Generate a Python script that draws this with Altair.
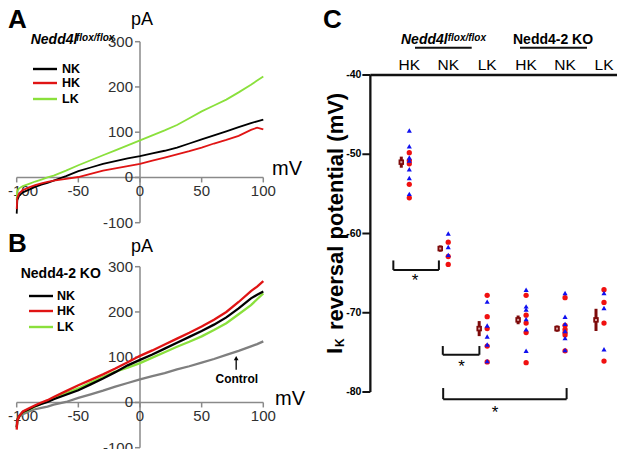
import altair as alt
import pandas as pd

FONT = "Liberation Sans"

# ---------------- Panels A / B : I-V traces ----------------
mv = [-100, -99.5, -98, -95, -90, -85, -80, -75, -70, -60, -50, -40, -30, -20, -10,
      0, 10, 20, 30, 40, 50, 60, 70, 80, 90, 95, 100]
a_lk = [-50, -30, -24, -19, -14, -9, -5, 0, 4, 15, 27, 38, 49, 60, 71,
        82, 93, 104, 116, 131, 146, 159, 172, 188, 205, 214, 223]
a_nk = [-80, -50, -40, -33, -27, -21, -16, -12, -7, 3, 14, 22, 30, 36, 42,
        47, 53, 59, 66, 75, 84, 93, 102, 111, 120, 124, 128]
a_hk = [-70, -45, -35, -28, -22, -17, -13, -10, -7, -3, 1, 8, 15, 20, 25,
        30, 37, 44, 51, 58, 66, 75, 83, 92, 105, 110, 106]
b_hk = [-60, -40, -30, -20, -13, -6, 0, 5, 12, 25, 38, 50, 62, 75, 89,
        103, 115, 128, 141, 154, 168, 183, 200, 222, 246, 256, 268]
b_nk = [-55, -40, -30, -21, -15, -8, -3, 1, 7, 17, 27, 40, 53, 67, 82,
        94, 106, 119, 132, 145, 158, 172, 188, 208, 230, 238, 245]
b_lk = [-55, -41, -30, -22, -16, -9, -3, 3, 9, 20, 31, 44, 56, 68, 77,
        87, 99, 111, 123, 134, 146, 160, 175, 195, 215, 228, 241]
b_ctrl = [-45, -36, -32, -26, -20, -15, -12, -9, -5, 1, 10, 18, 26, 35, 43,
          51, 58, 65, 73, 80, 88, 96, 105, 114, 124, 129, 135]
iv_xticks = [-100, -50, 0, 50, 100]
iv_yticks = [-100, 0, 100, 200, 300]
ctrl_arrow = {"mv": 78, "from": 72, "to": 98}
ctrl_label = {"mv": 78.5, "pa": 42}

# ---------------- Panel C : reversal potentials ----------------
c_groups = ["HK", "NK", "LK", "HK", "NK", "LK"]
c_mean = [-51.0, -61.9, -72.0, -70.9, -72.0, -70.9]
c_sem = [0.7, 0.4, 0.95, 0.55, 0.4, 1.4]
c_tri = [[-47.0, -49.0, -50.4, -50.8, -51.9, -53.0, -55.0],
         [-60.0, -61.7, -62.7],
         [-68.6, -71.6, -73.0, -74.0, -76.1],
         [-67.1, -69.2, -69.6, -70.8, -72.1, -74.8],
         [-67.5, -70.5, -71.4, -72.3, -73.2, -74.7],
         [-67.5, -69.4, -74.6]]
c_circ = [[-49.8, -50.8, -51.2, -53.8, -55.5],
          [-61.1, -62.9, -63.9],
          [-67.8, -70.5, -72.0, -74.2, -76.2],
          [-67.8, -70.3, -71.3, -72.5, -76.3],
          [-68.1, -71.6, -72.1, -72.5, -72.8, -74.8],
          [-67.1, -68.7, -71.3, -76.1]]
c_yticks = [-40, -50, -60, -70, -80]
sig_left = [-0.41, 0.86, 0.87]
sig_right = [0.76, 1.8, 4.04]
sig_top = [-63.4, -74.2, -79.5]
sig_bottom = [-64.6, -75.3, -80.9]
star_x = [0.15, 1.34, 2.2]
star_y = [-65.5, -76.4, -82.2]

# ---------------- scales (pixel ranges inside one canvas) ----------------
def sc(domain, rng):
    return alt.Scale(domain=domain, range=rng, nice=False, zero=False)

SX_IV = sc([-100, 100], [8.7, 255.3])
SY_A = sc([-100, 300], [214.7, 33.7])
SY_B = sc([-100, 300], [439.7, 258.7])
SX_C = sc([0, 5], [401.3, 596])
SY_C = sc([-80, -40], [384, 67])


def X(f, s):
    return alt.X(f, type="quantitative", scale=s, axis=None)


def Y(f, s):
    return alt.Y(f, type="quantitative", scale=s, axis=None)


def txt(s, x, y, size, weight="normal", style="normal", align="left",
        baseline="alphabetic", angle=None, color="#000000"):
    kw = dict(font=FONT, fontSize=size, fontWeight=weight, fontStyle=style,
              align=align, baseline=baseline, color=color)
    if angle is not None:
        kw["angle"] = angle
    return alt.Chart(pd.DataFrame({"t": [s]})).mark_text(**kw).encode(
        x=alt.value(x), y=alt.value(y), text="t:N")


def hline(x1, x2, y, color, width):
    return alt.Chart(pd.DataFrame({"a": [0]})).mark_rule(
        color=color, strokeWidth=width).encode(
        x=alt.value(x1), x2=alt.value(x2), y=alt.value(y))


layers = []

AX_GRAY = "#8a8a8a"
LBL = "#303030"
GREEN = "#8ae03c"
RED = "#e01414"


def iv_panel(SY, series, lw, dy0):
    out = []
    # axes
    out.append(alt.Chart(pd.DataFrame({"x": [0], "y": [-100], "y2": [300]}))
               .mark_rule(color=AX_GRAY, strokeWidth=1.5)
               .encode(x=X("x", SX_IV), y=Y("y", SY), y2="y2"))
    out.append(alt.Chart(pd.DataFrame({"x": [-100], "x2": [100], "y": [0]}))
               .mark_rule(color=AX_GRAY, strokeWidth=1.5)
               .encode(x=X("x", SX_IV), x2="x2", y=Y("y", SY)))
    ydf = pd.DataFrame({"x": [0] * len(iv_yticks), "y": iv_yticks,
                        "lab": [str(v) for v in iv_yticks]})
    out.append(alt.Chart(ydf).mark_rule(color=AX_GRAY, strokeWidth=1.5, x2Offset=-5)
               .encode(x=X("x", SX_IV), x2="x", y=Y("y", SY)))
    out.append(alt.Chart(ydf).mark_text(font=FONT, fontSize=15, color=LBL, align="right",
                                        baseline="middle", dx=-7)
               .encode(x=X("x", SX_IV), y=Y("y", SY), text="lab:N"))
    xdf = pd.DataFrame({"x": iv_xticks, "y": [0] * len(iv_xticks),
                        "lab": [str(v) for v in iv_xticks]})
    out.append(alt.Chart(xdf).mark_rule(color=AX_GRAY, strokeWidth=1.5, y2Offset=5)
               .encode(x=X("x", SX_IV), y=Y("y", SY), y2="y"))
    out.append(alt.Chart(xdf.iloc[1:]).mark_text(font=FONT, fontSize=15, color=LBL,
                                                 align="center", baseline="middle", dy=dy0)
               .encode(x=X("x", SX_IV), y=Y("y", SY), text="lab:N"))
    out.append(alt.Chart(xdf.iloc[:1]).mark_text(font=FONT, fontSize=15, color=LBL,
                                                 align="left", baseline="middle", dy=dy0, dx=-8.7)
               .encode(x=X("x", SX_IV), y=Y("y", SY), text="lab:N"))
    # traces
    for vals, col in series:
        df = pd.DataFrame({"mv": mv, "pa": vals})
        out.append(alt.Chart(df).mark_line(color=col, strokeWidth=lw)
                   .encode(x=X("mv", SX_IV), y=Y("pa", SY), order="mv:Q"))
    return out


# ---- Panel A
layers += iv_panel(SY_A, [(a_lk, GREEN), (a_nk, "#000000"), (a_hk, RED)], 1.8, 14)
layers.append(txt("A", 0, 19.5, 26, weight="bold"))
layers.append(txt("pA", 134, 17, 18, align="center"))
layers.append(txt("mV", 264, 167, 20))
layers.append(txt("Nedd4l", 22.7, 36.3, 14, weight="bold", style="italic"))
layers.append(txt("flox/flox", 68, 33, 10, weight="bold", style="italic"))
for (name, col, yy) in [("NK", "#000000", 61), ("HK", RED, 75), ("LK", GREEN, 91)]:
    layers.append(hline(25, 49, yy, col, 2.4))
    layers.append(txt(name, 54, yy, 12.5, weight="bold", baseline="middle"))

# ---- Panel B
layers += iv_panel(SY_B, [(b_ctrl, "#7f7f7f"), (b_lk, GREEN), (b_nk, "#000000"), (b_hk, RED)], 2.3, 14)
layers.append(txt("B", 0, 244, 26, weight="bold"))
layers.append(txt("pA", 134, 244, 18, align="center"))
layers.append(txt("mV", 267, 397, 20))
layers.append(txt("Nedd4-2 KO", 12.7, 269.7, 14, weight="bold"))
for (name, col, yy) in [("NK", "#000000", 288), ("HK", RED, 303), ("LK", GREEN, 319)]:
    layers.append(hline(21, 45, yy, col, 2.4))
    layers.append(txt(name, 49, yy, 12.5, weight="bold", baseline="middle"))
adf = pd.DataFrame({"x": [ctrl_arrow["mv"]], "y": [ctrl_arrow["from"]], "y2": [ctrl_arrow["to"]]})
layers.append(alt.Chart(adf).mark_rule(color="#000000", strokeWidth=1.3)
              .encode(x=X("x", SX_IV), y=Y("y", SY_B), y2="y2"))
layers.append(alt.Chart(adf).mark_point(shape="triangle-up", filled=True, color="#000000",
                                        size=22, opacity=1)
              .encode(x=X("x", SX_IV), y=Y("y2", SY_B)))
cdf = pd.DataFrame({"x": [ctrl_label["mv"]], "y": [ctrl_label["pa"]], "t": ["Control"]})
layers.append(alt.Chart(cdf).mark_text(font=FONT, fontSize=12, fontWeight="bold",
                                       align="center", baseline="alphabetic")
              .encode(x=X("x", SX_IV), y=Y("y", SY_B), text="t:N"))

# ---- Panel C
BLK = "#111111"
layers.append(alt.Chart(pd.DataFrame({"x": [-1], "y": [-40], "y2": [-80]}))
              .mark_rule(color=BLK, strokeWidth=2.3)
              .encode(x=X("x", SX_C), y=Y("y", SY_C), y2="y2"))
layers.append(alt.Chart(pd.DataFrame({"x": [-1], "x2": [5.6], "y": [-40]}))
              .mark_rule(color=BLK, strokeWidth=2.3)
              .encode(x=X("x", SX_C), x2="x2", y=Y("y", SY_C)))
tdf = pd.DataFrame({"x": [-1] * len(c_yticks), "y": c_yticks, "lab": [str(v) for v in c_yticks]})
layers.append(alt.Chart(tdf).mark_rule(color=BLK, strokeWidth=2, x2Offset=-8)
              .encode(x=X("x", SX_C), x2="x", y=Y("y", SY_C)))
layers.append(alt.Chart(tdf).mark_text(font=FONT, fontSize=10.5, fontWeight="bold", align="right",
                                       baseline="middle", dx=-9)
              .encode(x=X("x", SX_C), y=Y("y", SY_C), text="lab:N"))
gdf = pd.DataFrame({"x": list(range(6)), "lab": c_groups})
layers.append(alt.Chart(gdf).mark_text(font=FONT, fontSize=15.5, align="center", baseline="alphabetic")
              .encode(x=X("x", SX_C), y=alt.value(62), text="lab:N"))
layers.append(txt("C", 315, 19.5, 26, weight="bold"))
layers.append(txt("Nedd4l", 393, 36.3, 14, weight="bold", style="italic"))
layers.append(txt("flox/flox", 439.7, 33, 10, weight="bold", style="italic"))
layers.append(hline(407, 463.7, 39.7, BLK, 2))
layers.append(txt("Nedd4-2 KO", 505, 36, 14, weight="bold"))
layers.append(hline(512, 579, 39.7, BLK, 2))
# y title (rotated)
layers.append(txt("I", 334, 346, 22, weight="bold", angle=270))
layers.append(txt("K", 336, 339, 12, weight="bold", angle=270))
layers.append(txt("reversal potential (mV)", 334.5, 322, 22, weight="bold", angle=270))

# significance brackets
bdf = pd.DataFrame({"l": sig_left, "r": sig_right, "t": sig_top, "b": sig_bottom})
layers.append(alt.Chart(bdf).mark_rule(color=BLK, strokeWidth=2)
              .encode(x=X("l", SX_C), y=Y("t", SY_C), y2="b"))
layers.append(alt.Chart(bdf).mark_rule(color=BLK, strokeWidth=2)
              .encode(x=X("r", SX_C), y=Y("t", SY_C), y2="b"))
layers.append(alt.Chart(bdf).mark_rule(color=BLK, strokeWidth=2)
              .encode(x=X("l", SX_C), x2="r", y=Y("b", SY_C)))
sdf = pd.DataFrame({"x": star_x, "y": star_y, "t": ["*"] * 3})
layers.append(alt.Chart(sdf).mark_text(font=FONT, fontSize=17, align="center", baseline="middle", dy=4)
              .encode(x=X("x", SX_C), y=Y("y", SY_C), text="t:N"))

# individual points
crow = [(i, v) for i, vs in enumerate(c_circ) for v in vs]
trow = [(i, v) for i, vs in enumerate(c_tri) for v in vs]
cdf2 = pd.DataFrame(crow, columns=["x", "y"])
tdf2 = pd.DataFrame(trow, columns=["x", "y"])
layers.append(alt.Chart(cdf2).mark_circle(color="#f01010", size=28, opacity=1)
              .encode(x=X("x", SX_C), y=Y("y", SY_C)))
layers.append(alt.Chart(tdf2).mark_point(shape="triangle-up", filled=True, color="#1010f0",
                                         size=26, opacity=1)
              .encode(x=X("x", SX_C), y=Y("y", SY_C)))
# means +/- error
mdf = pd.DataFrame({"x": list(range(6)), "m": c_mean,
                    "lo": [m - e for m, e in zip(c_mean, c_sem)],
                    "hi": [m + e for m, e in zip(c_mean, c_sem)]})
DR = "#7d0a0a"
layers.append(alt.Chart(mdf).mark_rule(color=DR, strokeWidth=3, xOffset=-8)
              .encode(x=X("x", SX_C), y=Y("lo", SY_C), y2="hi"))
layers.append(alt.Chart(mdf).mark_point(shape="square", filled=True, color=DR, size=30,
                                        opacity=1, xOffset=-8)
              .encode(x=X("x", SX_C), y=Y("m", SY_C)))
layers.append(alt.Chart(mdf).mark_point(shape="square", filled=True, color="#d9a0a0", size=4,
                                        opacity=1, xOffset=-8)
              .encode(x=X("x", SX_C), y=Y("m", SY_C)))

chart = (alt.layer(*layers)
         .resolve_scale(x="independent", y="independent")
         .properties(width=609, height=441, padding=0,
                     autosize=alt.AutoSizeParams(type="none"))
         .configure_view(stroke=None))

chart.save("out.html", embed_options={"renderer": "svg", "actions": False})
